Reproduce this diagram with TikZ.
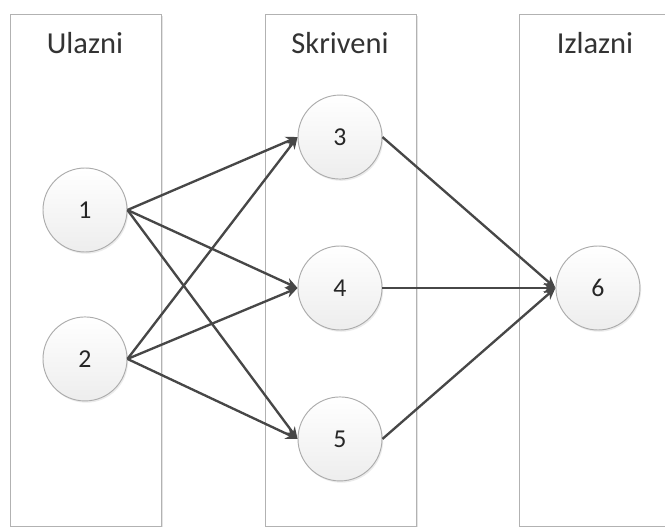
\documentclass[tikz,border=0pt]{standalone}
\usepackage{fontspec}
\setmainfont{Carlito}
\usepackage{tikz}
\usetikzlibrary{arrows.meta, positioning, shadows}

\begin{document}
\begin{tikzpicture}[
    layer/.style   = {draw=gray!60, line width=1pt, fill=white, anchor=north west,
                      minimum width=4.53cm, minimum height=15.36cm, inner sep=0pt,
                      drop shadow={shadow xshift=1.2pt, shadow yshift=-1pt,
                                   opacity=0.3, fill=gray!70}},
    title/.style   = {font=\fontsize{26}{30}\selectfont, text=black!80},
    neuron/.style  = {circle, draw=gray!65, line width=0.8pt, minimum size=2.52cm,
                      inner sep=0pt, top color=white, bottom color=gray!14,
                      font=\fontsize{22}{26}\selectfont, text=black!85,
                      drop shadow={shadow xshift=1pt, shadow yshift=-1.5pt,
                                   opacity=0.25, fill=gray!60}},
    arr/.style     = {-{Stealth[length=10pt, width=9pt]}, line width=2pt,
                      black!72},
]

%% ── Page frame ──────────────────────────────────────────────────────────────
\useasboundingbox (0,0) rectangle (19.95,15.78);
\clip (0,0) rectangle (19.95,15.78);

%% ── Layers ──────────────────────────────────────────────────────────────────
\node[layer]                      (layIn)  at (0.30,15.36) {};
\node[layer]                      (layHid) at (7.95,15.36) {};
\node[layer, minimum width=4.8cm] (layOut) at (15.57,15.36) {};

\node[title] (tIn)  at (2.55,14.49)  {Ulazni};
\node[title] (tHid) at (10.20,14.49) {Skriveni};
\node[title] (tOut) at (17.85,14.49) {Izlazni};

%% ── Neurons ─────────────────────────────────────────────────────────────────
\node[neuron]                     (n1) at (2.55,9.48) {1};
\node[neuron, below=1.92cm of n1] (n2)              {2};

\node[neuron]                     (n4) at (10.20,7.14) {4};
\node[neuron, above=1.98cm of n4] (n3)              {3};
\node[neuron, below=1.98cm of n4] (n5)              {5};

\node[neuron, right=5.19cm of n4] (n6)              {6};

%% ── Connections ─────────────────────────────────────────────────────────────
\foreach \src in {n1, n2}
  \foreach \dst in {n3, n4, n5}
    \draw[arr] (\src.east) -- (\dst.west);

\foreach \src in {n3, n4, n5}
  \draw[arr] (\src.east) -- (n6.west);

\end{tikzpicture}
\end{document}
